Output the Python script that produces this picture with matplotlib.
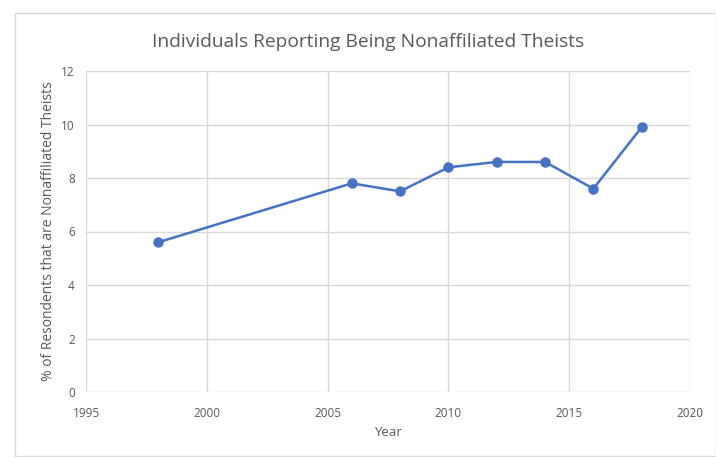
import matplotlib
matplotlib.use("Agg")
import matplotlib.pyplot as plt
from matplotlib.patches import Rectangle

years = [1998, 2006, 2008, 2010, 2012, 2014, 2016, 2018]
percent = [5.6, 7.8, 7.5, 8.4, 8.6, 8.6, 7.6, 9.9]
x_ticks = [1995, 2000, 2005, 2010, 2015, 2020]
y_ticks = [0, 2, 4, 6, 8, 10, 12]

plt.rcParams['font.family'] = ['Open Sans', 'DejaVu Sans']
text_gray = '#595959'
grid_gray = '#d9d9d9'

W, H = 716, 457
fig = plt.figure(figsize=(W / 100, H / 100), dpi=100)

# chart frame
fig.patches.append(Rectangle((15 / W, 1 - 456 / H), (W - 15) / W, (456 - 13) / H,
                             transform=fig.transFigure, fill=False,
                             edgecolor=grid_gray, linewidth=1.0))

ax = fig.add_axes([86 / W, 1 - 392 / H, (690 - 86) / W, (392 - 71) / H])
ax.plot(years, percent, color='#4472C4', linewidth=1.8, marker='o',
        markersize=6.5, zorder=3)

ax.set_xlim(1995, 2020)
ax.set_ylim(0, 12)
ax.set_xticks(x_ticks)
ax.set_yticks(y_ticks)
ax.grid(True, color=grid_gray, linewidth=1)
ax.set_axisbelow(True)
for s in ax.spines.values():
    s.set_visible(False)
ax.tick_params(axis='x', length=0, labelsize=8.5, labelcolor=text_gray, pad=11)
ax.tick_params(axis='y', length=0, labelsize=8.5, labelcolor=text_gray, pad=8)

ax.set_xlabel('Year', fontsize=9.5, color=text_gray, labelpad=4)
ax.set_ylabel('% of Resondents that are Nonaffiliated Theists', fontsize=10,
              color=text_gray, labelpad=4)
fig.text(368 / W, 1 - 42 / H,
         'Individuals Reporting Being Nonaffiliated Theists',
         ha='center', va='center', fontsize=13.8, color=text_gray)

fig.savefig('out.png', dpi=100)
